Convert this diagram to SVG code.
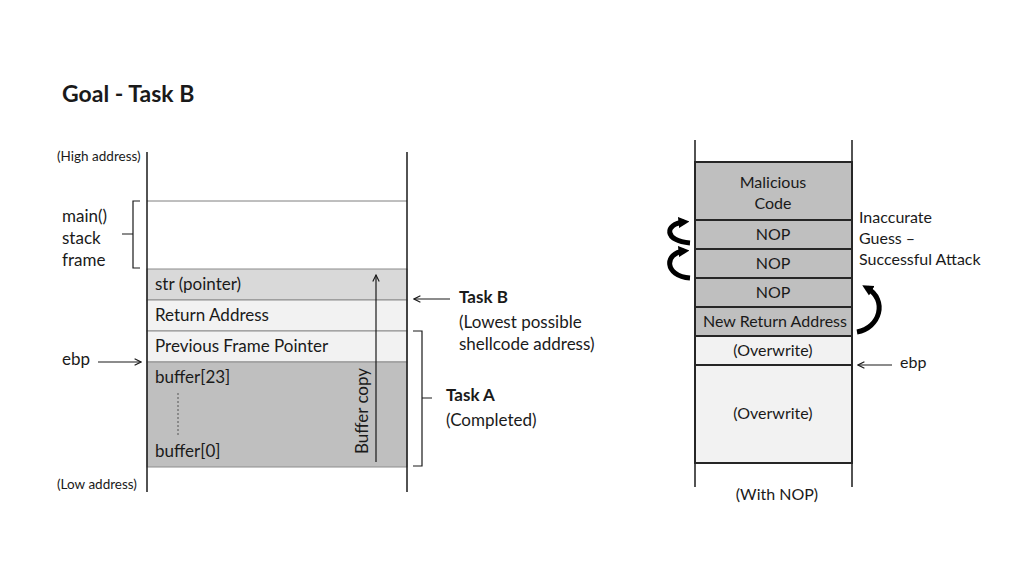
<svg xmlns="http://www.w3.org/2000/svg" width="1024" height="576" viewBox="0 0 1024 576">
<defs>
<style>
text{font-family:Lato,"Open Sans","Liberation Sans",sans-serif;fill:#1a1a1a}
.t{font-size:16px}
.l{font-size:17px}
.s{font-size:13.5px}
.b{font-weight:bold}
.c{text-anchor:middle}
.ax{stroke:#1a1a1a;stroke-width:1.5;fill:none}
.thin{stroke:#1a1a1a;stroke-width:1.2;fill:none}
.band{stroke:#8c8c8c;stroke-width:1}
.box{stroke:#262626;stroke-width:2}
.curve{stroke:#000;stroke-width:5;fill:none;stroke-linecap:butt}
</style>
<marker id="ah" viewBox="0 0 10 10" refX="9" refY="5" markerWidth="8" markerHeight="8" orient="auto" markerUnits="userSpaceOnUse">
<path d="M1,1 L9,5 L1,9" fill="none" stroke="#1a1a1a" stroke-width="1.4"/>
</marker>
<marker id="ahf" viewBox="0 0 10 10" refX="5" refY="5" markerWidth="11" markerHeight="12" orient="auto" markerUnits="userSpaceOnUse">
<path d="M0,0 L10,5 L0,10 Z" fill="#000"/>
</marker>
</defs>
<rect width="1024" height="576" fill="#fff"/>
<text x="62" y="102" class="b" font-size="23">Goal - Task B</text>

<g id="left-stack">
<rect x="147" y="269" width="260" height="31" fill="#d9d9d9" class="band"/>
<rect x="147" y="300" width="260" height="31" fill="#f2f2f2" class="band"/>
<rect x="147" y="331" width="260" height="31" fill="#f2f2f2" class="band"/>
<rect x="147" y="362" width="260" height="105" fill="#bfbfbf" class="band"/>
<line x1="147" y1="201" x2="407" y2="201" stroke="#7f7f7f" stroke-width="1"/>
<line x1="147" y1="152" x2="147" y2="492" class="ax"/>
<line x1="407" y1="152" x2="407" y2="492" class="ax"/>
<text x="155" y="290" class="l">str (pointer)</text>
<text x="155" y="321" class="l">Return Address</text>
<text x="155" y="352" class="l">Previous Frame Pointer</text>
<text x="155" y="383" class="l">buffer[23]</text>
<text x="155" y="457" class="l">buffer[0]</text>
<line x1="178" y1="393" x2="178" y2="435" stroke="#555" stroke-width="1" stroke-dasharray="2,2"/>
<text x="57" y="161" class="s">(High address)</text>
<text x="57" y="489" class="s">(Low address)</text>
<text x="62" y="222" class="l">main()</text>
<text x="62" y="244" class="l">stack</text>
<text x="62" y="266" class="l">frame</text>
<path d="M140,201 H133 V234 H122 M133,234 V268 H140" class="thin"/>
<text x="62" y="365" class="l">ebp</text>
<text x="459" y="303" class="l b">Task B</text>
<text x="459" y="328" class="l">(Lowest possible</text>
<text x="459" y="350" class="l">shellcode address)</text>
<path d="M413,331 H422 V466 H413 M422,398 H432" class="thin"/>
<text x="446" y="401" class="l b">Task A</text>
<text x="446" y="426" class="l">(Completed)</text>
<text transform="translate(368,411) rotate(-90)" class="l c">Buffer copy</text>
</g>

<g id="right-stack">
<line x1="695" y1="140" x2="695" y2="487" class="ax"/>
<line x1="852" y1="140" x2="852" y2="487" class="ax"/>
<rect x="695" y="162" width="157" height="58" fill="#bfbfbf" class="box"/>
<rect x="695" y="220" width="157" height="29" fill="#bfbfbf" class="box"/>
<rect x="695" y="249" width="157" height="29" fill="#bfbfbf" class="box"/>
<rect x="695" y="278" width="157" height="29" fill="#bfbfbf" class="box"/>
<rect x="695" y="307" width="157" height="29" fill="#bfbfbf" class="box"/>
<rect x="695" y="336" width="157" height="29" fill="#f2f2f2" class="box"/>
<rect x="695" y="365" width="157" height="98" fill="#f2f2f2" class="box"/>
<text x="773" y="188" class="t c">Malicious</text>
<text x="773" y="209" class="t c">Code</text>
<text x="773" y="240" class="t c">NOP</text>
<text x="773" y="269" class="t c">NOP</text>
<text x="773" y="298" class="t c">NOP</text>
<text x="775" y="327" class="t c">New Return Address</text>
<text x="773" y="356" class="t c">(Overwrite)</text>
<text x="773" y="419" class="t c">(Overwrite)</text>
<text x="777" y="500" class="t c">(With NOP)</text>
<text x="859" y="223" class="t">Inaccurate</text>
<text x="859" y="244" class="t">Guess –</text>
<text x="859" y="265" class="t">Successful Attack</text>
<text x="900" y="368" class="t">ebp</text>
</g>

<g id="connectors">
<line x1="98" y1="362" x2="141" y2="362" class="thin" marker-end="url(#ah)"/>
<line x1="450" y1="299" x2="414" y2="299" class="thin" marker-end="url(#ah)"/>
<line x1="376" y1="462" x2="376" y2="275" class="thin" marker-end="url(#ah)"/>
<line x1="892" y1="365" x2="858" y2="365" class="thin" marker-end="url(#ah)"/>
<path d="M690,243 C664,241 664,224 684,222" class="curve" marker-end="url(#ahf)"/>
<path d="M690,278 C664,276 664,253 684,251" class="curve" marker-end="url(#ahf)"/>
<path d="M857,332 C880,328 888,300 867,288" class="curve" marker-end="url(#ahf)"/>
</g>
</svg>
